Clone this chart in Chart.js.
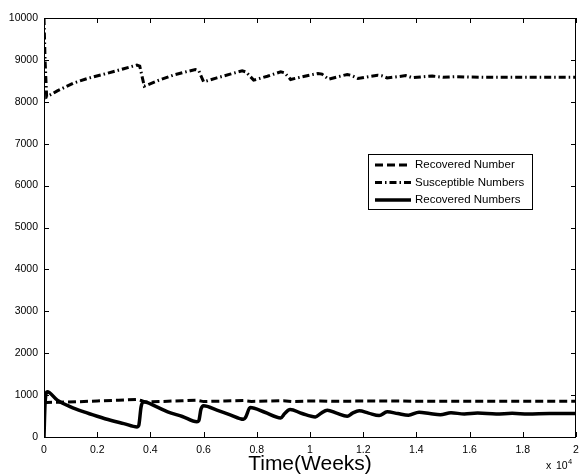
<!DOCTYPE html>
<html>
<head>
<meta charset="utf-8">
<script src="https://cdn.jsdelivr.net/npm/chart.js@4/dist/chart.umd.min.js"></script>
<style>
  html,body{margin:0;padding:0;background:#fff}
  #wrap{width:579px;height:475px;position:relative}
</style>
</head>
<body>
<div id="wrap"><canvas id="chart" width="579" height="475"></canvas></div>
<script>
// time in units of 10^4 weeks
const susTime = [0, 0.004, 0.01, 0.05, 0.11, 0.17, 0.236, 0.3, 0.349, 0.36, 0.377, 0.43, 0.486, 0.53, 0.569, 0.582, 0.6, 0.65, 0.7, 0.745, 0.76, 0.788, 0.84, 0.89, 0.905, 0.927, 0.98, 1.03, 1.045, 1.07, 1.1, 1.14, 1.155, 1.18, 1.22, 1.254, 1.27, 1.29, 1.33, 1.36, 1.385, 1.42, 1.46, 1.5, 1.55, 1.6, 1.7, 1.8, 1.9, 2.0];
const susceptible = [10000, 9000, 8117, 8260, 8445, 8570, 8677, 8790, 8876, 8850, 8373, 8510, 8636, 8710, 8770, 8740, 8477, 8570, 8660, 8740, 8710, 8517, 8610, 8716, 8690, 8533, 8610, 8677, 8660, 8540, 8590, 8653, 8630, 8557, 8600, 8636, 8620, 8570, 8600, 8625, 8575, 8595, 8615, 8585, 8600, 8590, 8585, 8585, 8585, 8585];

const recTime = [0, 0.01, 0.06, 0.12, 0.2, 0.28, 0.35, 0.365, 0.38, 0.45, 0.52, 0.575, 0.6, 0.68, 0.75, 0.78, 0.85, 0.9, 0.93, 1.0, 1.04, 1.08, 1.2, 1.4, 1.6, 1.8, 2.0];
const recoveredNumber = [820, 824, 830, 840, 860, 880, 896, 870, 835, 850, 865, 880, 845, 860, 870, 850, 858, 865, 848, 858, 862, 852, 858, 856, 856, 856, 856];

const infTime = [0, 0.004, 0.012, 0.05, 0.1, 0.15, 0.2, 0.25, 0.3, 0.35, 0.356, 0.365, 0.375, 0.42, 0.465, 0.52, 0.575, 0.582, 0.59, 0.6, 0.65, 0.7, 0.75, 0.758, 0.775, 0.83, 0.89, 0.905, 0.925, 0.97, 1.02, 1.04, 1.065, 1.1, 1.14, 1.16, 1.185, 1.22, 1.26, 1.29, 1.33, 1.37, 1.41, 1.45, 1.49, 1.53, 1.58, 1.63, 1.7, 1.76, 1.82, 1.9, 2.0];
const recoveredNumbers = [0, 800, 1080, 880, 720, 600, 496, 400, 320, 240, 270, 720, 840, 730, 600, 490, 365, 390, 660, 744, 640, 530, 424, 470, 704, 590, 456, 560, 656, 560, 480, 560, 640, 570, 496, 570, 624, 570, 512, 600, 560, 520, 592, 560, 532, 578, 550, 570, 548, 565, 550, 560, 558];

const legendLabels = ['Recovered Number', 'Susceptible Numbers', 'Recovered Numbers'];

function pts(xs, ys){ return xs.map((x,i)=>({x:x, y:ys[i]})) }

const FONT = '"Liberation Sans", Arial, Helvetica, sans-serif';

// box, inward ticks, legend, exponent label
const framePlugin = {
  id:'frame',
  afterDraw(chart){
    const ctx = chart.ctx, a = chart.chartArea;
    const xs = chart.scales.x, ys = chart.scales.y;
    ctx.save();
    ctx.strokeStyle = '#000'; ctx.lineWidth = 1; ctx.setLineDash([]);
    ctx.strokeRect(a.left+0.5, a.top+0.5, a.right-a.left-1, a.bottom-a.top);
    const tl = 5;
    ctx.beginPath();
    xs.ticks.forEach(t=>{
      const px = Math.round(xs.getPixelForValue(t.value))+0.5;
      ctx.moveTo(px, a.bottom); ctx.lineTo(px, a.bottom-tl);
      ctx.moveTo(px, a.top); ctx.lineTo(px, a.top+tl);
    });
    ys.ticks.forEach(t=>{
      const py = Math.round(ys.getPixelForValue(t.value))+0.5;
      ctx.moveTo(a.left, py); ctx.lineTo(a.left+tl, py);
      ctx.moveTo(a.right, py); ctx.lineTo(a.right-tl, py);
    });
    ctx.stroke();

    // legend
    const bx = 368, by = 154, bw = 164, bh = 55;
    ctx.fillStyle = '#fff'; ctx.fillRect(bx, by, bw, bh);
    ctx.strokeRect(bx+0.5, by+0.5, bw, bh);
    ctx.font = '11.5px ' + FONT; ctx.textBaseline = 'middle'; ctx.fillStyle = '#000';
    const rowY = [165, 182.5, 200];
    const order = [1, 0, 2];
    order.forEach((di, i)=>{
      const ds = chart.data.datasets[di];
      ctx.save();
      ctx.strokeStyle = '#000'; ctx.lineWidth = ds.borderWidth; ctx.setLineDash(ds.borderDash || []);
      ctx.beginPath(); ctx.moveTo(375, rowY[i]); ctx.lineTo(411, rowY[i]); ctx.stroke();
      ctx.restore();
      ctx.fillText(legendLabels[i], 415, rowY[i]);
    });

    // exponent
    ctx.textBaseline = 'alphabetic';
    ctx.font = '10.5px ' + FONT;
    ctx.fillText('x', 546, 468.5);
    ctx.fillText('10', 556, 468.5);
    ctx.font = '7.5px ' + FONT;
    ctx.fillText('4', 568, 463.5);
    ctx.restore();
  }
};

new Chart(document.getElementById('chart'), {
  type:'line',
  data:{
    datasets:[
      {label:'Susceptible Numbers', data:pts(susTime, susceptible), borderColor:'#000', borderWidth:3, borderDash:[7,3,1.5,3], pointRadius:0, tension:0},
      {label:'Recovered Number', data:pts(recTime, recoveredNumber), borderColor:'#000', borderWidth:3, borderDash:[8,4], pointRadius:0, tension:0},
      {label:'Recovered Numbers', data:pts(infTime, recoveredNumbers), borderColor:'#000', borderWidth:3.5, pointRadius:0, cubicInterpolationMode:'monotone'}
    ]
  },
  options:{
    responsive:false, animation:false,
    layout:{padding:{top:18, right:3, left:0, bottom:0}},
    plugins:{legend:{display:false}, tooltip:{enabled:false}},
    scales:{
      x:{
        type:'linear', min:0, max:2,
        grid:{display:false, drawTicks:false}, border:{display:false},
        ticks:{stepSize:0.2, color:'#000', font:{family:FONT, size:10.5}, padding:7, maxRotation:0,
          callback:v=>String(Math.round(v*10)/10)},
        title:{display:true, text:'Time(Weeks)', color:'#000', font:{family:FONT, size:21, lineHeight:1}, padding:0},
        afterFit:s=>{ s.height = 38; s.paddingLeft = 0; s.paddingRight = 0 }
      },
      y:{
        min:0, max:10000,
        grid:{display:false, drawTicks:false}, border:{display:false},
        ticks:{stepSize:1000, color:'#000', font:{family:FONT, size:10.5}, padding:6, callback:v=>String(v)},
        afterFit:s=>{ s.width = 44; s.paddingTop = 0; s.paddingBottom = 0 }
      }
    }
  },
  plugins:[framePlugin]
});
</script>
</body>
</html>
